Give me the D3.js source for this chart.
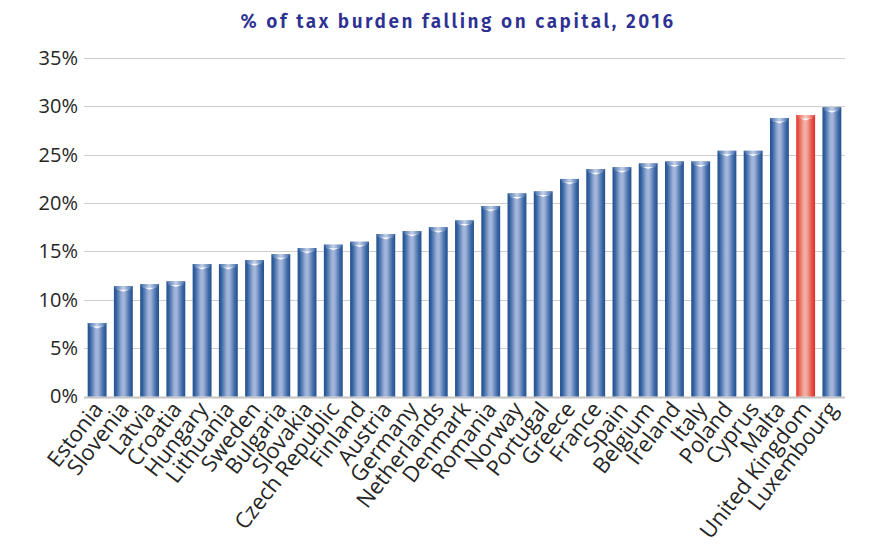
<!DOCTYPE html>
<html>
<head>
<meta charset="utf-8">
<script src="https://cdn.jsdelivr.net/npm/d3@7"></script>
<style>
  body { margin: 0; background: #fff; }
  svg { display: block; }
</style>
</head>
<body>
<div id="chart"></div>
<script>
// data
const countries = ["Estonia", "Slovenia", "Latvia", "Croatia", "Hungary", "Lithuania", "Sweden",
  "Bulgaria", "Slovakia", "Czech Republic", "Finland", "Austria", "Germany", "Netherlands",
  "Denmark", "Romania", "Norway", "Portugal", "Greece", "France", "Spain", "Belgium", "Ireland",
  "Italy", "Poland", "Cyprus", "Malta", "United Kingdom", "Luxembourg"];
const shares = [7.6, 11.4, 11.6, 11.9, 13.7, 13.7, 14.1, 14.7, 15.35, 15.7, 16.0, 16.8, 17.1, 17.5,
  18.2, 19.7, 21.0, 21.2, 22.5, 23.5, 23.7, 24.1, 24.3, 24.3, 25.4, 25.4, 28.8, 29.1, 29.9];
const highlight = ["United Kingdom"];
const yTicks = [0, 5, 10, 15, 20, 25, 30, 35];
const title = "% of tax burden falling on capital, 2016";

const W = 870, H = 557;
const M = { top: 58, right: 25, bottom: 161, left: 84 };

const svg = d3.select("#chart").append("svg")
  .attr("width", W).attr("height", H);

const defs = svg.append("defs");
const grad = (id, stops) => {
  const g = defs.append("linearGradient").attr("id", id)
    .attr("x1", "0%").attr("x2", "100%").attr("y1", "0%").attr("y2", "0%");
  stops.forEach(([o, c]) => g.append("stop").attr("offset", o).attr("stop-color", c));
};
grad("blue", [["0%", "#255290"], ["12%", "#3261a0"], ["42%", "#9fb2d8"], ["55%", "#a3b5da"], ["85%", "#3b67a6"], ["100%", "#24518d"]]);
grad("red", [["0%", "#e2362c"], ["12%", "#e8534a"], ["42%", "#f0b2a4"], ["55%", "#f0ac9e"], ["85%", "#e64a40"], ["100%", "#dd3128"]]);
grad("blueCap", [["0%", "#3a67a4"], ["50%", "#c3d0ea"], ["100%", "#3a67a4"]]);
grad("redCap", [["0%", "#e8473d"], ["50%", "#f6cdc4"], ["100%", "#e8473d"]]);

const x = d3.scaleBand().domain(countries)
  .range([M.left, W - M.right]).paddingInner(0.28).paddingOuter(0.14);
const y = d3.scaleLinear().domain([0, 35]).range([H - M.bottom + 0.5, M.top]);

// gridlines
svg.append("g").selectAll("line").data(yTicks).join("line")
  .attr("x1", M.left).attr("x2", W - M.right)
  .attr("y1", d => Math.round(y(d)) + 0.5).attr("y2", d => Math.round(y(d)) + 0.5)
  .attr("stroke", d => d === 0 ? "#c4c4c4" : "#cfcfcf")
  .attr("stroke-width", d => d === 0 ? 2 : 1);

// y axis labels
const yAxis = d3.axisLeft(y).tickValues(yTicks).tickFormat(d => d + "%").tickSize(0).tickPadding(6);
svg.append("g").attr("transform", `translate(${M.left},0)`).call(yAxis)
  .call(g => g.select(".domain").remove())
  .selectAll("text")
  .attr("font-family", "'Open Sans', sans-serif").attr("font-size", 20)
  .attr("fill", "#262626");

// bars
const bars = svg.append("g").selectAll("g").data(countries).join("g");
bars.append("rect")
  .attr("x", d => x(d)).attr("width", x.bandwidth())
  .attr("y", (d, i) => y(shares[i])).attr("height", (d, i) => y(0) - y(shares[i]))
  .attr("fill", d => highlight.includes(d) ? "url(#red)" : "url(#blue)");
// bevelled top
bars.append("path")
  .attr("d", (d, i) => {
    const x0 = x(d), x1 = x0 + x.bandwidth(), t = y(shares[i]);
    return `M${x0},${t}L${x1},${t}L${x1 - 3},${t + 4}L${x0 + 3},${t + 4}Z`;
  })
  .attr("fill", d => highlight.includes(d) ? "url(#redCap)" : "url(#blueCap)");
bars.append("path")
  .attr("d", (d, i) => {
    const c = x(d) + x.bandwidth() / 2, t = y(shares[i]);
    return `M${c - 5},${t + 3.5}L${c + 5},${t + 3.5}L${c},${t + 5.5}Z`;
  })
  .attr("fill", "#ffffff").attr("opacity", 0.9);

// x labels
svg.append("g").selectAll("text").data(countries).join("text")
  .attr("transform", d => `translate(${x(d) + x.bandwidth() / 2 + 7},${y(0) + 13}) rotate(-52)`)
  .attr("text-anchor", "end")
  .attr("font-family", "'Open Sans', sans-serif").attr("font-size", 22)
  .attr("fill", "#262626")
  .text(d => d);

// title
svg.append("text")
  .attr("x", 458).attr("y", 28)
  .attr("text-anchor", "middle")
  .attr("font-family", "'Fira Sans', 'Open Sans', sans-serif").attr("font-weight", 600)
  .attr("font-size", 19).attr("letter-spacing", 2.5)
  .attr("fill", "#2e3192")
  .text(title);
</script>
</body>
</html>
